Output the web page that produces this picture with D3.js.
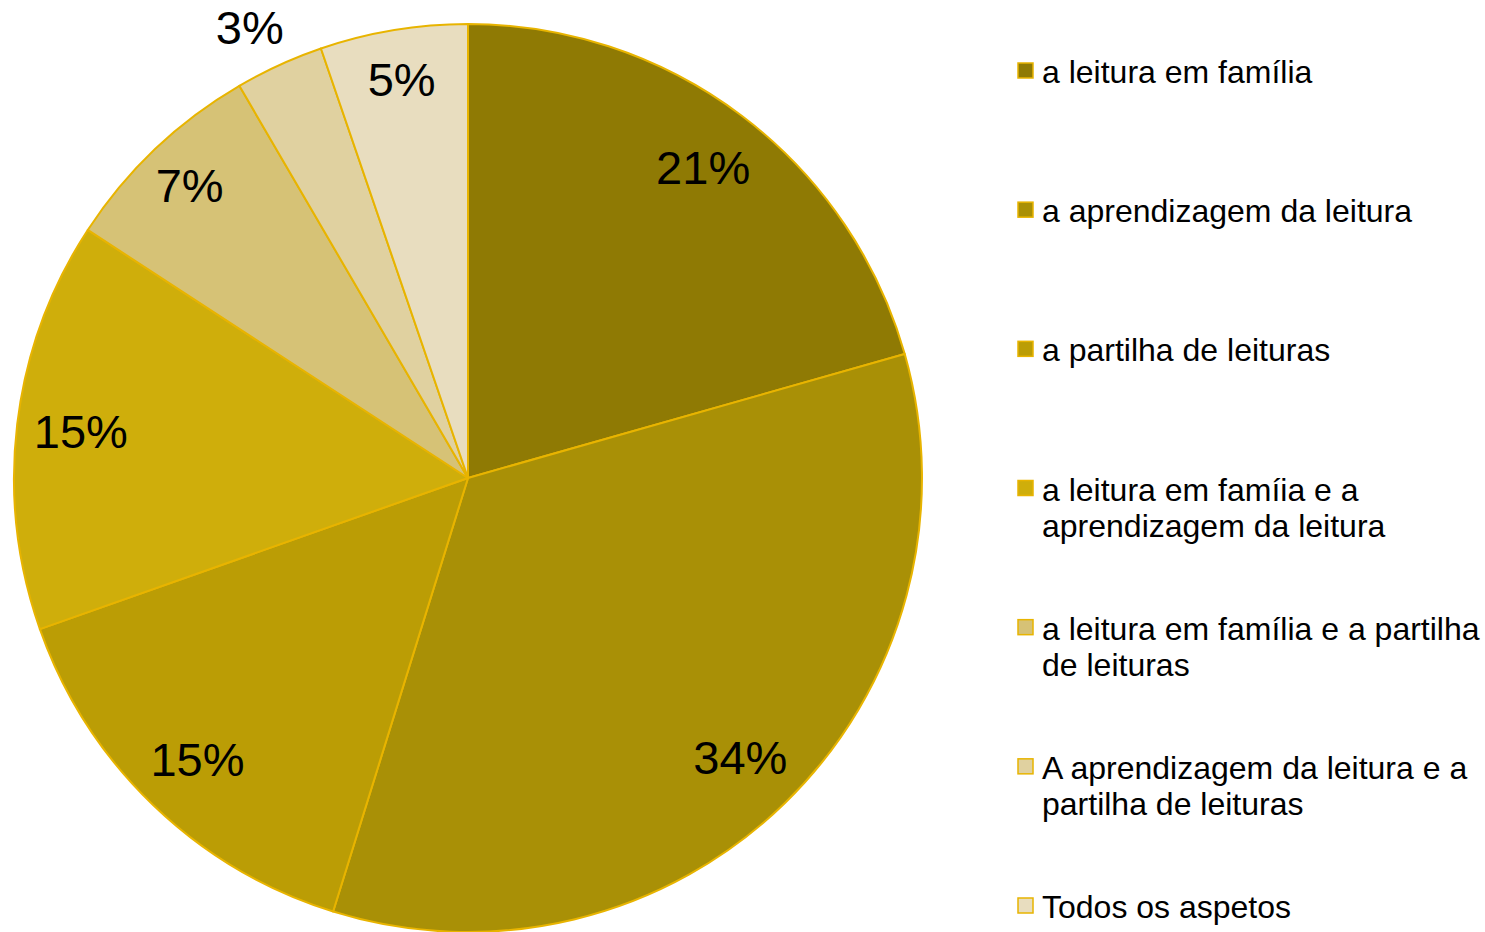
<!DOCTYPE html>
<html>
<head>
<meta charset="utf-8">
<script src="https://cdn.jsdelivr.net/npm/d3@7"></script>
<style>
  body { margin: 0; background: #fff; }
  svg { display: block; font-family: "Liberation Sans", Arial, sans-serif; }
</style>
</head>
<body>
<svg id="chart" width="1485" height="932"></svg>
<script>
// categories and shares (percent)
var categories = [
  'a leitura em família',
  'a aprendizagem da leitura',
  'a partilha de leituras',
  'a leitura em famíia e a aprendizagem da leitura',
  'a leitura em família e a partilha de leituras',
  'A aprendizagem da leitura e a partilha de leituras',
  'Todos os aspetos'
];
var values = [20.6, 34.2, 14.8, 14.6, 7.4, 3.15, 5.25];
var labels = ['21%', '34%', '15%', '15%', '7%', '3%', '5%'];
var legendLines = [
  ['a leitura em família'],
  ['a aprendizagem da leitura'],
  ['a partilha de leituras'],
  ['a leitura em famíia e a', 'aprendizagem da leitura'],
  ['a leitura em família e a partilha', 'de leituras'],
  ['A aprendizagem da leitura e a', 'partilha de leituras'],
  ['Todos os aspetos']
];
var colors = ['#8f7a04', '#a99006', '#bb9d05', '#cfae0b', '#d6c276', '#e0d1a0', '#e8ddbf'];

var svg = d3.select('#chart');
var cx = 468, cy = 478, radius = 454;

var color = d3.scaleOrdinal().domain(categories).range(colors);

var data = categories.map(function(c, i) {
  return { name: c, value: values[i], label: labels[i], lines: legendLines[i] };
});

var pie = d3.pie()
  .sort(null)
  .value(function(d) { return d.value; });

var arc = d3.arc().innerRadius(0).outerRadius(radius);

var g = svg.append('g').attr('transform', 'translate(' + cx + ',' + cy + ')');
var arcs = pie(data);

g.selectAll('.slice')
  .data(arcs)
  .enter().append('path')
  .attr('class', 'slice')
  .attr('d', arc)
  .attr('fill', function(d) { return color(d.data.name); })
  .attr('stroke', '#e8b400')
  .attr('stroke-width', 2)
  .attr('stroke-linejoin', 'round');

// label radius: big slices a bit further in, the 3% slice goes outside
function labelRadius(d) {
  if (d.data.value < 4) return 496;
  if (d.data.value < 10) return 404;
  return 390;
}

g.selectAll('.lbl')
  .data(arcs)
  .enter().append('text')
  .attr('class', 'lbl')
  .attr('transform', function(d) {
    var r = labelRadius(d);
    var p = d3.arc().innerRadius(r).outerRadius(r).centroid(d);
    // outside label hangs a little towards the left
    if (d.data.value < 4) p[0] -= 12;
    return 'translate(' + p[0] + ',' + p[1] + ')';
  })
  .attr('text-anchor', 'middle')
  .attr('dy', '0.36em')
  .attr('font-size', 47)
  .attr('fill', '#000')
  .text(function(d) { return d.data.label; });

// legend
var legendY = d3.scalePoint()
  .domain(categories)
  .range([72, 907]);

var items = svg.selectAll('.legend')
  .data(data)
  .enter().append('g')
  .attr('class', 'legend')
  .attr('transform', function(d) { return 'translate(1018,' + legendY(d.name) + ')'; });

items.append('rect')
  .attr('x', 0)
  .attr('y', -9)
  .attr('width', 15)
  .attr('height', 15)
  .attr('fill', function(d) { return color(d.name); })
  .attr('stroke', '#e8b400')
  .attr('stroke-width', 1.5);

items.append('text')
  .attr('x', 24)
  .attr('y', 11)
  .attr('font-size', 32)
  .attr('fill', '#000')
  .selectAll('tspan')
  .data(function(d) { return d.lines; })
  .enter().append('tspan')
  .attr('x', 24)
  .attr('dy', function(d, i) { return i === 0 ? 0 : 36; })
  .text(function(d) { return d; });
</script>
</body>
</html>
